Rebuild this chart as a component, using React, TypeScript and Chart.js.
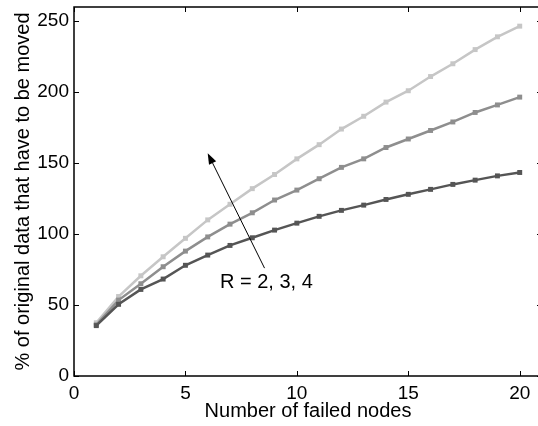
import React, { useEffect, useRef } from "react";
import { Chart, registerables } from "chart.js";

Chart.register(...registerables);

const failedNodes = [1, 2, 3, 4, 5, 6, 7, 8, 9, 10, 11, 12, 13, 14, 15, 16, 17, 18, 19, 20];
const r4Values = [37.5, 56, 70.6, 84, 97, 110, 121, 132, 142, 153, 163, 174, 183, 193, 201, 211, 220, 230, 239, 246.5];
const r3Values = [36, 53.5, 65, 77, 88, 98, 107, 115, 124, 131, 139, 147, 153, 161, 167, 173, 179, 185.7, 191, 196.5];
const r2Values = [35.5, 50.5, 61, 68.3, 78, 85.2, 92, 97.4, 102.8, 107.7, 112.5, 116.7, 120.4, 124.4, 128, 131.5, 135, 138, 141, 143.4];
const xTickValues = [0, 5, 10, 15, 20];
const yTickValues = [0, 50, 100, 150, 200, 250];
const seriesLabels = ["R = 4", "R = 3", "R = 2"];
const annotationText = "R = 2, 3, 4";
const arrowFrom = { x: 8.55, y: 76 };
const arrowTo = { x: 6.0, y: 157 };
const annotationPos = { x: 6.55, y: 66 };

const FONT = "'Liberation Sans', Arial, Helvetica, sans-serif";

const framePlugin = {
  id: "frameAndAnnot",
  afterDraw(chart: any) {
    const { ctx, chartArea: a, scales } = chart;
    const xs = scales.x;
    const ys = scales.y;
    ctx.save();
    ctx.strokeStyle = "#000";
    ctx.lineWidth = 1.5;
    ctx.strokeRect(a.left, a.top, a.right - a.left, a.bottom - a.top);
    ctx.lineWidth = 1;
    const tl = 5;
    ctx.beginPath();
    xTickValues.forEach((v) => {
      const px = Math.round(xs.getPixelForValue(v)) + 0.5;
      ctx.moveTo(px, a.bottom);
      ctx.lineTo(px, a.bottom - tl);
      ctx.moveTo(px, a.top);
      ctx.lineTo(px, a.top + tl);
    });
    yTickValues.forEach((v) => {
      const py = Math.round(ys.getPixelForValue(v)) + 0.5;
      ctx.moveTo(a.left, py);
      ctx.lineTo(a.left + tl, py);
      ctx.moveTo(a.right, py);
      ctx.lineTo(a.right - tl, py);
    });
    ctx.stroke();

    // arrow
    const x1 = xs.getPixelForValue(arrowFrom.x);
    const y1 = ys.getPixelForValue(arrowFrom.y);
    const x2 = xs.getPixelForValue(arrowTo.x);
    const y2 = ys.getPixelForValue(arrowTo.y);
    const ang = Math.atan2(y2 - y1, x2 - x1);
    const hl = 11;
    const hw = 4;
    const bx = x2 - hl * Math.cos(ang);
    const by = y2 - hl * Math.sin(ang);
    ctx.beginPath();
    ctx.moveTo(x1, y1);
    ctx.lineTo(bx, by);
    ctx.stroke();
    ctx.beginPath();
    ctx.moveTo(x2, y2);
    ctx.lineTo(bx + hw * Math.sin(ang), by - hw * Math.cos(ang));
    ctx.lineTo(bx - hw * Math.sin(ang), by + hw * Math.cos(ang));
    ctx.closePath();
    ctx.fillStyle = "#000";
    ctx.fill();

    ctx.font = `20px ${FONT}`;
    ctx.textAlign = "left";
    ctx.textBaseline = "middle";
    ctx.fillText(annotationText, xs.getPixelForValue(annotationPos.x), ys.getPixelForValue(annotationPos.y));
    ctx.restore();
  },
};

export default function App() {
  const ref = useRef<HTMLCanvasElement>(null);
  useEffect(() => {
    document.body.style.margin = "0";
    const mk = (label: string, data: number[], color: string) => ({
      label,
      data: data.map((v, i) => ({ x: failedNodes[i], y: v })),
      borderColor: color,
      backgroundColor: color,
      borderWidth: 2.5,
      pointStyle: "rect",
      pointRadius: 3.5,
      pointBorderWidth: 0,
      tension: 0,
    });
    const chart = new Chart(ref.current!, {
      type: "line",
      data: {
        datasets: [
          mk(seriesLabels[2], r2Values, "#555555"),
          mk(seriesLabels[1], r3Values, "#8e8e8e"),
          mk(seriesLabels[0], r4Values, "#c6c6c6"),
        ],
      },
      options: {
        animation: false,
        responsive: false,
        layout: { padding: { top: 7, right: 4, left: 0, bottom: 0 } },
        plugins: { legend: { display: false }, tooltip: { enabled: false } },
        scales: {
          x: {
            type: "linear",
            min: 0,
            max: 21,
            grid: { display: false, drawTicks: false },
            border: { display: false },
            afterBuildTicks: (s: any) => {
              s.ticks = xTickValues.map((v) => ({ value: v }));
            },
            afterFit: (s: any) => {
              s.height = 50;
              s.paddingLeft = 0;
              s.paddingRight = 0;
            },
            ticks: { color: "#000", font: { family: FONT, size: 19 }, padding: 6, maxRotation: 0 },
            title: {
              display: true,
              text: "Number of failed nodes",
              color: "#000",
              font: { family: FONT, size: 20 },
              padding: { top: 0, bottom: 3 },
            },
          },
          y: {
            min: 0,
            max: 260,
            grid: { display: false, drawTicks: false },
            border: { display: false },
            afterBuildTicks: (s: any) => {
              s.ticks = yTickValues.map((v) => ({ value: v }));
            },
            afterFit: (s: any) => {
              s.width = 74;
              s.paddingTop = 0;
              s.paddingBottom = 0;
            },
            ticks: { color: "#000", font: { family: FONT, size: 19 }, padding: 5 },
            title: {
              display: true,
              text: "% of original data that have to be moved",
              color: "#000",
              font: { family: FONT, size: 20 },
              padding: { top: 11, bottom: 0 },
            },
          },
        },
      },
      plugins: [framePlugin],
    } as any);
    return () => chart.destroy();
  }, []);
  return (
    <div style={{ width: 538, height: 426, overflow: "hidden", background: "#fff" }}>
      <canvas ref={ref} width={546} height={426} style={{ display: "block", width: 546, height: 426 }} />
    </div>
  );
}
